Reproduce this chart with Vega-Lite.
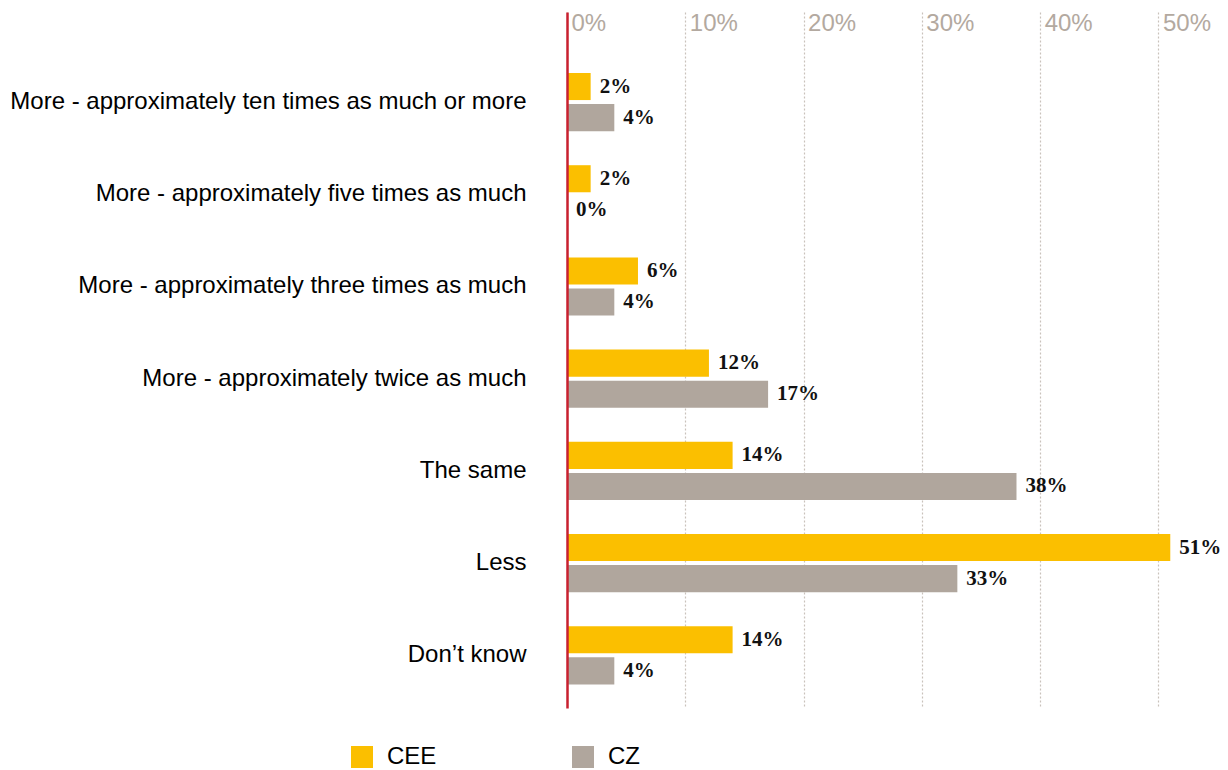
{
  "$schema": "https://vega.github.io/schema/vega-lite/v6.json",
  "width": 661,
  "height": 696,
  "autosize": {"type": "none"},
  "padding": {"left": 567, "top": 12, "right": 0, "bottom": 62},
  "background": "white",
  "view": {"stroke": null},
  "data": {
    "values": [
      {"category": "More - approximately ten times as much or more", "series": "CEE", "value": 0.02},
      {"category": "More - approximately ten times as much or more", "series": "CZ", "value": 0.04},
      {"category": "More - approximately five times as much", "series": "CEE", "value": 0.02},
      {"category": "More - approximately five times as much", "series": "CZ", "value": 0.0},
      {"category": "More - approximately three times as much", "series": "CEE", "value": 0.06},
      {"category": "More - approximately three times as much", "series": "CZ", "value": 0.04},
      {"category": "More - approximately twice as much", "series": "CEE", "value": 0.12},
      {"category": "More - approximately twice as much", "series": "CZ", "value": 0.17},
      {"category": "The same", "series": "CEE", "value": 0.14},
      {"category": "The same", "series": "CZ", "value": 0.38},
      {"category": "Less", "series": "CEE", "value": 0.51},
      {"category": "Less", "series": "CZ", "value": 0.33},
      {"category": "Don’t know", "series": "CEE", "value": 0.14},
      {"category": "Don’t know", "series": "CZ", "value": 0.04}
    ]
  },
  "encoding": {
    "y": {
      "field": "category",
      "type": "nominal",
      "sort": null,
      "scale": {"paddingInner": 0, "paddingOuter": 0.274, "align": 0.87},
      "axis": {
        "title": null,
        "ticks": false,
        "tickSize": 0,
        "labelPadding": 41,
        "labelFont": "Liberation Sans",
        "labelFontSize": 24,
        "labelColor": "#000000",
        "labelLimit": 600,
        "domain": true,
        "domainColor": "#C8202F",
        "domainWidth": 2.5,
        "zindex": 1
      }
    },
    "yOffset": {
      "field": "series",
      "type": "nominal",
      "sort": ["CEE", "CZ"],
      "scale": {"paddingInner": 0.129, "paddingOuter": 0.548}
    },
    "x": {
      "field": "value",
      "type": "quantitative",
      "scale": {"domain": [0, 0.5588], "nice": false, "zero": true},
      "axis": {
        "orient": "top",
        "title": null,
        "format": ".0%",
        "values": [0, 0.1, 0.2, 0.3, 0.4, 0.5],
        "domain": false,
        "ticks": false,
        "tickSize": 0,
        "labelAlign": "left",
        "labelBaseline": "top",
        "labelPadding": 1,
        "labelOffset": 4,
        "labelFlush": false,
        "labelBound": false,
        "labelOverlap": false,
        "labelFont": "Liberation Sans",
        "labelFontSize": 24,
        "labelColor": "#B3A9A0",
        "grid": true,
        "gridColor": "#C9C2BB",
        "gridDash": [2, 2],
        "gridWidth": 1.2
      }
    }
  },
  "layer": [
    {
      "mark": {"type": "bar"},
      "encoding": {
        "color": {
          "field": "series",
          "type": "nominal",
          "sort": ["CEE", "CZ"],
          "scale": {"domain": ["CEE", "CZ"], "range": ["#FBBF00", "#B0A69D"]},
          "legend": {
            "title": null,
            "orient": "none",
            "direction": "horizontal",
            "legendX": -217,
            "legendY": 733,
            "padding": 0,
            "symbolType": "square",
            "symbolSize": 484,
            "symbolStrokeWidth": 0,
            "symbolOpacity": 1,
            "labelFont": "Liberation Sans",
            "labelFontSize": 24,
            "labelColor": "#000000",
            "labelOffset": 13,
            "columnPadding": 134
          }
        }
      }
    },
    {
      "mark": {
        "type": "text",
        "align": "left",
        "baseline": "middle",
        "dx": 9,
        "font": "Liberation Serif",
        "fontWeight": "bold",
        "fontSize": 21,
        "color": "#111111"
      },
      "encoding": {
        "text": {"field": "value", "type": "quantitative", "format": ".0%"}
      }
    }
  ]
}
